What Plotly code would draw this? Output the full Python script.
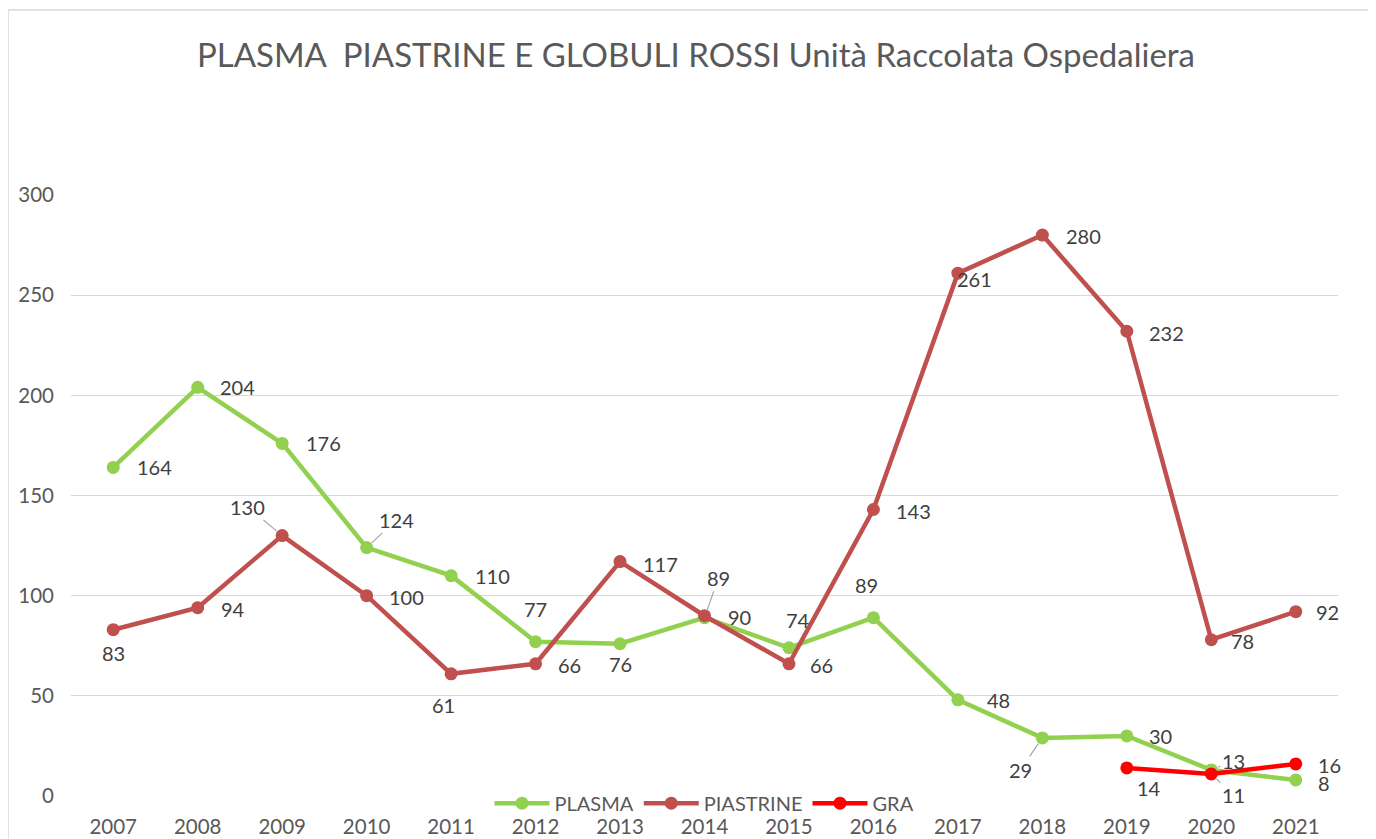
import plotly.graph_objects as go

years = ["2007", "2008", "2009", "2010", "2011", "2012", "2013", "2014",
         "2015", "2016", "2017", "2018", "2019", "2020", "2021"]
plasma = [164, 204, 176, 124, 110, 77, 76, 89, 74, 89, 48, 29, 30, 13, 8]
piastrine = [83, 94, 130, 100, 61, 66, 117, 90, 66, 143, 261, 280, 232, 78, 92]
gra = [None] * 12 + [14, 11, 16]

# label offsets (pixels): (dx, dy, leader)  dy positive = down
plasma_off = [(41, 0, 0), (40, 0, 0), (41, 0, 0), (30, -28, 1), (41, 0, 0),
              (0, -33, 0), (0, 20, 0), (14, -40, 1), (9, -28, 0), (-7, -33, 0),
              (41, 0, 0), (-22, 32, 1), (34, 0, 0), (22, -9, 1), (28, 3, 0)]
piast_off = [(0, 23, 0), (35, 1, 0), (-35, -29, 1), (40, 1, 0), (-8, 31, 0),
             (34, 1, 0), (40, 2, 0), (35, 1, 0), (33, 1, 0), (40, 1, 0),
             (17, 6, 0), (41, 1, 0), (40, 2, 0), (31, 1, 0), (32, 0, 0)]
gra_off = [None] * 12 + [(22, 20, 0), (22, 21, 1), (34, 1, 0)]

FONT = "Lato"
GREY = "#595959"

fig = go.Figure()
series = [("PLASMA", plasma, "#92D050", plasma_off),
          ("PIASTRINE", piastrine, "#C0504D", piast_off),
          ("GRA", gra, "#FF0000", gra_off)]
for name, vals, col, _ in series:
    fig.add_trace(go.Scatter(x=years, y=vals, name=name, mode="lines+markers",
                             line=dict(color=col, width=4.5),
                             marker=dict(color=col, size=13),
                             connectgaps=False))

annots = []
for name, vals, col, offs in series:
    for i, (yr, v, o) in enumerate(zip(years, vals, offs)):
        if v is None:
            continue
        dx, dy, leader = o
        if leader:
            annots.append(dict(x=i, y=v, text=str(v), showarrow=True, ax=dx, ay=dy,
                               arrowhead=0, arrowwidth=1.2, arrowcolor="#a6a6a6",
                               standoff=7, font=dict(family=FONT, size=20, color="#404040")))
        else:
            annots.append(dict(x=i, y=v, text=str(v), showarrow=False,
                               xshift=dx, yshift=-dy,
                               font=dict(family=FONT, size=20, color="#404040")))

fig.update_layout(
    width=1376, height=839,
    margin=dict(l=63, r=46, t=187, b=51),
    paper_bgcolor="white", plot_bgcolor="white",
    title=dict(text="PLASMA  PIASTRINE E GLOBULI ROSSI Unità Raccolata Ospedaliera",
               x=0.5, xref="container", xanchor="center",
               y=1 - 47 / 839, yanchor="middle",
               font=dict(family=FONT, size=33, color=GREY)),
    font=dict(family=FONT, color=GREY),
    xaxis=dict(type="category", range=[-0.5, 14.5], autorange=False, automargin=False,
               showgrid=False, zeroline=False, showline=False,
               ticks="", ticklabelstandoff=16, tickfont=dict(size=20.5, color=GREY)),
    yaxis=dict(range=[0, 300], tickvals=[0, 50, 100, 150, 200, 250, 300],
               automargin=False,
               showgrid=True, gridcolor="#d9d9d9", gridwidth=1, zeroline=False,
               showline=False, ticks="", ticklabelstandoff=16,
               tickfont=dict(size=20.5, color=GREY)),
    legend=dict(orientation="h", x=0.5, xanchor="center", y=-0.012, yanchor="middle",
                bgcolor="rgba(0,0,0,0)", font=dict(size=20, color=GREY),
                itemwidth=55, tracegroupgap=0),
    annotations=annots,
    shapes=[dict(type="rect", xref="paper", yref="paper",
                 x0=-63 / 1267, x1=1.2, y0=-0.2, y1=(788 - 2) / 601,
                 line=dict(color="#d9d9d9", width=1.5), layer="below")],
)
fig.write_html("out.html")
